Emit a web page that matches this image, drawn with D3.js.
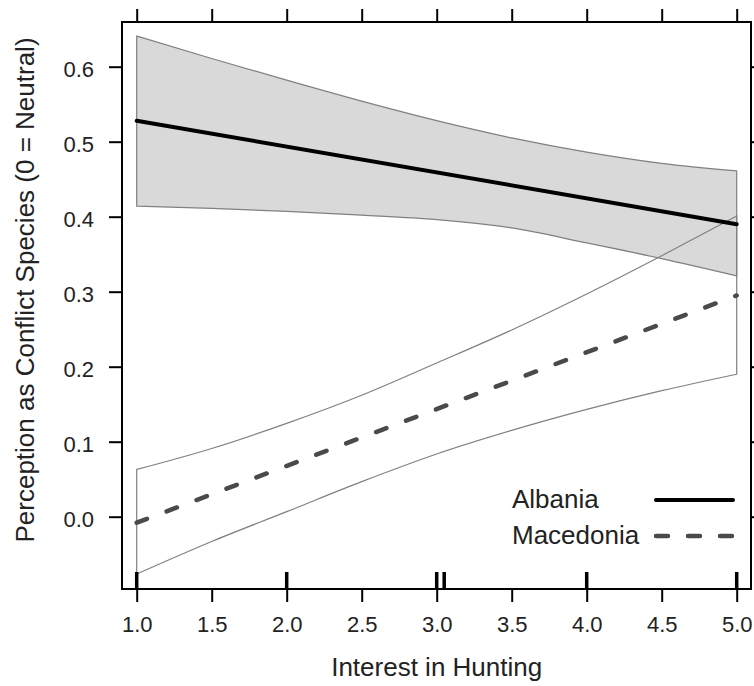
<!DOCTYPE html>
<html>
<head>
<meta charset="utf-8">
<script src="https://cdn.jsdelivr.net/npm/d3@7"></script>
<style>
  html, body { margin: 0; padding: 0; background: #fff; }
  svg { display: block; font-family: "Liberation Sans", Arial, Helvetica, sans-serif; }
</style>
</head>
<body>
<svg id="chart" width="754" height="686"></svg>
<script>
// ---- data ----
const xGrid = [1.0, 1.5, 2.0, 2.5, 3.0, 3.5, 4.0, 4.5, 5.0];
const albaniaUpper   = [0.641, 0.611, 0.582, 0.554, 0.528, 0.505, 0.486, 0.471, 0.461];
const albaniaLower   = [0.414, 0.411, 0.407, 0.402, 0.396, 0.385, 0.365, 0.344, 0.321];
const macedoniaUpper = [0.063, 0.091, 0.1245, 0.162, 0.205, 0.249, 0.297, 0.348, 0.401];
const macedoniaLower = [-0.0764, -0.033, 0.0067, 0.0467, 0.0836, 0.115, 0.143, 0.168, 0.190];
const fitX = [1.0, 5.0];
const albaniaFit   = [0.528, 0.390];
const macedoniaFit = [-0.008, 0.295];
const rugValues = [1.0, 2.0, 3.0, 3.05, 4.0, 5.0];
const xTicks = [1.0, 1.5, 2.0, 2.5, 3.0, 3.5, 4.0, 4.5, 5.0];
const yTicks = [0.0, 0.1, 0.2, 0.3, 0.4, 0.5, 0.6];
const seriesNames = ["Albania", "Macedonia"];
const xTitle = "Interest in Hunting";
const yTitle = "Perception as Conflict Species (0 = Neutral)";

// ---- layout ----
const box = { left: 122, right: 751, top: 22, bottom: 589 };
const svg = d3.select("#chart");

const x = d3.scaleLinear().domain([1, 5]).range([136.7, 736.7]);
const y = d3.scaleLinear().domain([0, 0.6]).range([516.7, 66.7]);

const tickLen = 13;

const bandA = xGrid.map((v, i) => ({ x: v, lo: albaniaLower[i], hi: albaniaUpper[i] }));
const bandM = xGrid.map((v, i) => ({ x: v, lo: macedoniaLower[i], hi: macedoniaUpper[i] }));

const area = d3.area()
  .x(d => x(d.x))
  .y0(d => y(d.lo))
  .y1(d => y(d.hi))
  .curve(d3.curveMonotoneX);

svg.append("path")
  .attr("d", area(bandA))
  .attr("fill", "#d9d9d9")
  .attr("stroke", "#808080")
  .attr("stroke-width", 1.2);

svg.append("path")
  .attr("d", area(bandM))
  .attr("fill", "none")
  .attr("stroke", "#808080")
  .attr("stroke-width", 1.2);

const fitLine = d3.line().x(d => x(d[0])).y(d => y(d[1]));

svg.append("path")
  .attr("d", fitLine(fitX.map((v, i) => [v, albaniaFit[i]])))
  .attr("fill", "none")
  .attr("stroke", "#000")
  .attr("stroke-width", 4)
  .attr("stroke-linecap", "round");

svg.append("path")
  .attr("d", fitLine(fitX.map((v, i) => [v, macedoniaFit[i]])))
  .attr("fill", "none")
  .attr("stroke", "#4a4a4a")
  .attr("stroke-width", 4.5)
  .attr("stroke-linecap", "round")
  .attr("stroke-dasharray", "11,21");

// rug
svg.append("g").selectAll("line")
  .data(rugValues)
  .join("line")
  .attr("x1", d => x(d)).attr("x2", d => x(d))
  .attr("y1", box.bottom - 17).attr("y2", box.bottom)
  .attr("stroke", "#000")
  .attr("stroke-width", 3.5);

// axes
const fmt = d3.format(".1f");
function styleAxis(g) {
  g.select(".domain").remove();
  g.selectAll(".tick line").attr("stroke", "#000").attr("stroke-width", 2);
  g.selectAll(".tick text").attr("fill", "#222").style("font-size", "22px");
}

svg.append("g")
  .attr("transform", `translate(${box.left},0)`)
  .call(d3.axisLeft(y).tickValues(yTicks).tickFormat(fmt).tickSize(tickLen).tickPadding(15))
  .call(styleAxis)
  .call(g => g.selectAll(".tick text").attr("dy", "0.43em"));

svg.append("g")
  .attr("transform", `translate(0,${box.bottom})`)
  .call(d3.axisBottom(x).tickValues(xTicks).tickFormat(fmt).tickSize(tickLen).tickPadding(14))
  .call(styleAxis);

svg.append("g")
  .attr("transform", `translate(0,${box.top})`)
  .call(d3.axisTop(x).tickValues(xTicks).tickFormat("").tickSize(tickLen))
  .call(styleAxis);

svg.append("g")
  .attr("transform", `translate(${box.right},0)`)
  .call(d3.axisRight(y).tickValues(yTicks).tickFormat("").tickSize(tickLen))
  .call(styleAxis);

// plot box
svg.append("rect")
  .attr("x", box.left).attr("y", box.top)
  .attr("width", box.right - box.left).attr("height", box.bottom - box.top)
  .attr("fill", "none").attr("stroke", "#000").attr("stroke-width", 2);

// titles
svg.append("text")
  .attr("x", (x(1) + x(5)) / 2).attr("y", 676)
  .attr("text-anchor", "middle")
  .style("font-size", "26px").attr("fill", "#222")
  .text(xTitle);

svg.append("text")
  .attr("transform", "translate(34,290) rotate(-90)")
  .attr("text-anchor", "middle")
  .style("font-size", "26px").attr("fill", "#222")
  .text(yTitle);

// legend
const legendRows = [
  { name: seriesNames[0], ty: 508, ly: 500, color: "#000", w: 4, dash: null },
  { name: seriesNames[1], ty: 544, ly: 536, color: "#4a4a4a", w: 4.5, dash: "12,20" }
];
const lg = svg.append("g");
legendRows.forEach(r => {
  lg.append("text")
    .attr("x", 512).attr("y", r.ty)
    .attr("text-anchor", "start")
    .style("font-size", "26px").attr("fill", "#222")
    .text(r.name);
  lg.append("line")
    .attr("x1", 656).attr("x2", 733)
    .attr("y1", r.ly).attr("y2", r.ly)
    .attr("stroke", r.color)
    .attr("stroke-width", r.w)
    .attr("stroke-linecap", "round")
    .attr("stroke-dasharray", r.dash);
});
</script>
</body>
</html>
